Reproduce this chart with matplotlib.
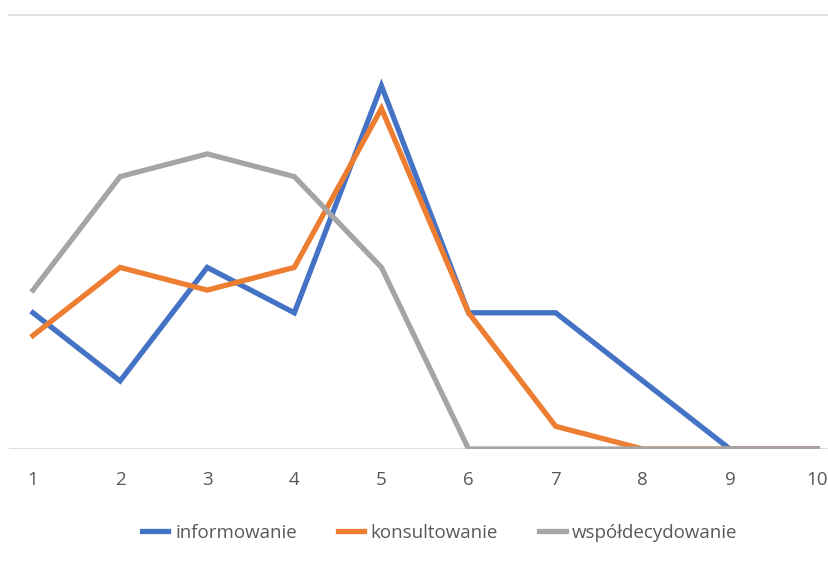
import matplotlib
matplotlib.use("Agg")
import matplotlib.pyplot as plt

x = [1, 2, 3, 4, 5, 6, 7, 8, 9, 10]
informowanie = [6, 3, 8, 6, 16, 6, 6, 3, 0, 0]
konsultowanie = [5, 8, 7, 8, 15, 6, 1, 0, 0, 0]
wspoldecydowanie = [7, 12, 13, 12, 8, 0, 0, 0, 0, 0]

names = ["informowanie", "konsultowanie", "współdecydowanie"]
colors = ["#4472C4", "#ED7D31", "#A5A5A5"]

plt.rcParams['font.family'] = ['Open Sans', 'DejaVu Sans']

fig = plt.figure(figsize=(8.29, 5.61), dpi=100)
ax = fig.add_axes([9 / 829, (561 - 449) / 561, 1 - 9 / 829, (449 - 15) / 561])

for series, name, c in zip([informowanie, konsultowanie, wspoldecydowanie], names, colors):
    ax.plot(x, series, color=c, lw=3.8, label=name, solid_joinstyle="miter")

ax.set_xlim(1 - 24 / 87.1, 10 + 12 / 87.1)
ax.set_ylim(0, 434 / 22.7)

# gridlines: only baseline and top line visible
ax.axhline(434 / 22.7, color="#D9D9D9", lw=1.2, zorder=0, clip_on=False)
ax.axhline(0, color="#D9D9D9", lw=1.2, zorder=0)

for s in ax.spines.values():
    s.set_visible(False)
ax.set_yticks([])
ax.set_xticks(x)
ax.set_xticklabels([str(v) for v in x])
ax.tick_params(axis="x", length=0, pad=16, labelsize=13.5, labelcolor="#595959")

leg = fig.legend(loc="center", bbox_to_anchor=(440 / 829, 1 - 533 / 561), ncol=3,
                 frameon=False, fontsize=13.5, handlelength=1.4, handletextpad=0.35,
                 columnspacing=2.2)
for t in leg.get_texts():
    t.set_color("#595959")

fig.savefig("out.png", dpi=100)
